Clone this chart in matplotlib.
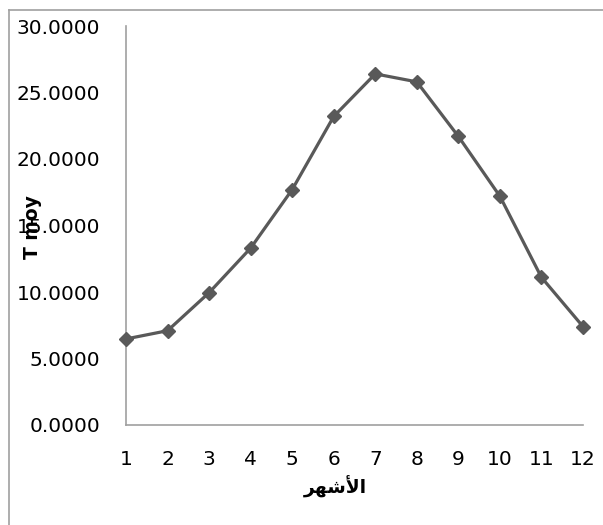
import matplotlib
matplotlib.use("Agg")
import matplotlib.pyplot as plt
from matplotlib.lines import Line2D

# Monthly mean temperature
months = [1, 2, 3, 4, 5, 6, 7, 8, 9, 10, 11, 12]
t_moy = [6.47, 7.09, 9.95, 13.3, 17.7, 23.2, 26.4, 25.8, 21.7, 17.2, 11.1, 7.4]
y_ticks = [0, 5, 10, 15, 20, 25, 30]

# "الأشهر" written with Arabic presentation forms in visual (left-to-right) order
x_label = "\uFEAE\uFEEC\uFEB7\uFEF7\uFE8D"
y_label = "T moy"

W, H, DPI = 603, 525, 100
fig = plt.figure(figsize=(W / DPI, H / DPI), dpi=DPI)
fig.patch.set_facecolor("white")

ax = fig.add_axes([126 / W, 1 - 425 / H, (583 - 126) / W, (425 - 26) / H])
ax.plot(months, t_moy, color="#595959", linewidth=2.3, marker="D",
        markersize=7.5, markerfacecolor="#595959", markeredgecolor="#595959",
        clip_on=False, zorder=3)

ax.set_xlim(1, 12)
ax.set_ylim(0, 30)
ax.set_xticks(months)
ax.set_yticks(y_ticks)
ax.set_yticklabels([f"{v:.4f}" for v in y_ticks])

for side in ("top", "right"):
    ax.spines[side].set_visible(False)
for side in ("left", "bottom"):
    ax.spines[side].set_color("#a0a0a0")
    ax.spines[side].set_linewidth(1.2)

ax.tick_params(axis="y", length=0, pad=18.5, labelsize=14.5, labelcolor="black")
ax.tick_params(axis="x", length=0, pad=18, labelsize=14.5, labelcolor="black")

fig.text(32 / W, 1 - 227 / H, y_label, rotation=90, ha="center", va="center",
         fontsize=13.5, fontweight="bold", color="black")
fig.text(335 / W, 1 - 487 / H, x_label, ha="center", va="center",
         fontsize=13.5, fontweight="bold", color="black", family="DejaVu Sans")

# chart frame edges
fig.add_artist(Line2D([9 / W, 1.0], [1 - 10 / H, 1 - 10 / H],
                      transform=fig.transFigure, color="#a0a0a0", linewidth=1.2))
fig.add_artist(Line2D([9 / W, 9 / W], [0.0, 1 - 10 / H],
                      transform=fig.transFigure, color="#a0a0a0", linewidth=1.2))

fig.savefig("out.png", dpi=DPI)
